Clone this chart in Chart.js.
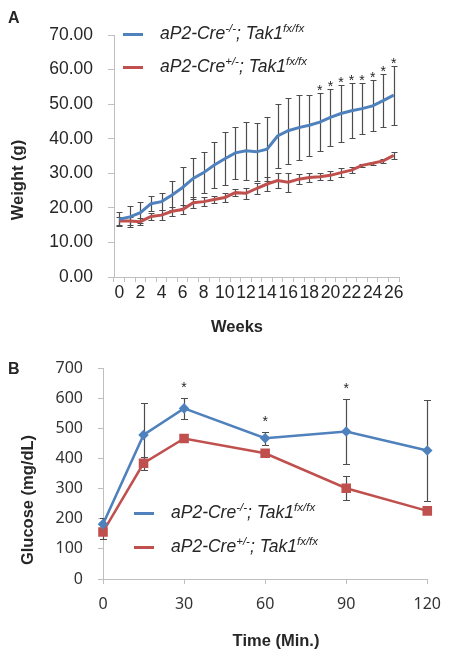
<!DOCTYPE html>
<html>
<head>
<meta charset="utf-8">
<script src="https://cdn.jsdelivr.net/npm/chart.js@4"></script>
<style>
  body { margin:0; background:#fff; }
  #wrap { position:relative; width:452px; height:658px; font-family:'Liberation Sans', Arial, sans-serif; color:#262626; }
  canvas { position:absolute; left:0; }
  #cA { top:0; }
  #cB { top:340px; }
  .lbl { position:absolute; font-weight:bold; font-size:16px; line-height:16px; }
  .ttl { position:absolute; font-weight:bold; font-size:16.5px; white-space:nowrap; transform:translate(-50%,-50%); line-height:18px; }
  .rot { transform:translate(-50%,-50%) rotate(-90deg); }
  .swatch { position:absolute; width:20px; height:3px; }
  .leg { position:absolute; font-style:italic; font-size:17.5px; line-height:20px; white-space:nowrap; transform:translateY(-50%); }
  .leg sup { font-size:11.5px; vertical-align:0; position:relative; top:-7px; }
</style>
</head>
<body>
<div id="wrap">
  <canvas id="cA" width="452" height="340"></canvas>
  <canvas id="cB" width="452" height="318"></canvas>

  <div class="lbl" style="left:8px;top:10px">A</div>
  <div class="lbl" style="left:8px;top:361px">B</div>

  <div class="ttl rot" style="left:17px;top:180px">Weight (g)</div>
  <div class="ttl" style="left:237px;top:326px">Weeks</div>
  <div class="ttl rot" style="left:27px;top:500px">Glucose (mg/dL)</div>
  <div class="ttl" style="left:276px;top:640px">Time (Min.)</div>

  <div class="swatch" style="left:123px;top:33px;background:#4F81BD"></div>
  <div class="leg" style="left:160px;top:34px">aP2-Cre<sup>-/-</sup>; Tak1<sup>fx/fx</sup></div>
  <div class="swatch" style="left:123px;top:66px;background:#C0504D"></div>
  <div class="leg" style="left:160px;top:67px">aP2-Cre<sup>+/-</sup>; Tak1<sup>fx/fx</sup></div>

  <div class="swatch" style="left:134px;top:512px;background:#4F81BD"></div>
  <div class="leg" style="left:171px;top:513px">aP2-Cre<sup>-/-</sup>; Tak1<sup>fx/fx</sup></div>
  <div class="swatch" style="left:134px;top:546px;background:#C0504D"></div>
  <div class="leg" style="left:171px;top:547px">aP2-Cre<sup>+/-</sup>; Tak1<sup>fx/fx</sup></div>
</div>

<script>
/* ===== Data: panel A (weight) ===== */
const weeks = [0,1,2,3,4,5,6,7,8,9,10,11,12,13,14,15,16,17,18,19,20,21,22,23,24,25,26];
const koWeight  = [16.7,17.4,18.6,21.2,21.8,23.7,25.9,28.5,30.2,32.4,34.2,35.9,36.5,36.2,37.0,40.8,42.3,43.2,43.9,44.8,46.2,47.3,48.1,48.7,49.5,51.0,52.6];
const koWeightErr = [2.0,3.0,3.0,2.2,2.5,4.2,5.8,6.0,6.0,6.7,7.6,7.6,8.4,8.3,9.2,9.2,9.5,9.5,8.8,8.3,8.3,8.3,7.9,7.4,7.4,7.6,8.5];
const ctlWeight = [16.2,16.2,16.0,17.5,17.9,19.0,19.5,21.5,21.8,22.4,23.0,24.4,24.2,25.6,26.9,27.9,27.4,28.3,28.8,29.0,29.4,30.2,30.9,32.3,32.9,33.6,35.2];
const ctlWeightErr = [1.3,1.3,1.1,1.1,1.4,1.3,1.2,1.6,1.2,1.1,1.3,1.1,1.6,1.7,1.9,2.2,2.8,1.5,1.2,1.0,1.2,1.3,0.9,0.5,0.5,0.6,1.0];
const weightStars = [19,20,21,22,23,24,25,26];   // weeks marked *

/* ===== Data: panel B (glucose) ===== */
const timeMin = [0,15,30,60,90,120];
const koGlucose  = [182,478,566,467,489,426];
const koGlucoseErr = [20,105,36,22,108,167];
const ctlGlucose = [156,384,466,417,301,226];
const ctlGlucoseErr = [24,22,6,10,40,6];
const glucoseStars = [30,60,90];                 // minutes marked *

const BLUE = '#4F81BD', RED = '#C0504D', AXIS = '#BFBFBF';

/* ===== Error bars + asterisks ===== */
const errorBars = {
  id: 'errorBars',
  beforeDatasetsDraw(chart, args, o){
    const ctx = chart.ctx, ys = chart.scales.y;
    chart.data.datasets.forEach((ds, i) => {
      if (!ds.errors) return;
      const meta = chart.getDatasetMeta(i);
      ctx.save();
      ctx.strokeStyle = o.color; ctx.lineWidth = o.width;
      meta.data.forEach((pt, j) => {
        const v = ds.data[j], y = typeof v === 'object' ? v.y : v, e = ds.errors[j];
        const t = Math.round(ys.getPixelForValue(y + e)) + .5, b = Math.round(ys.getPixelForValue(y - e)) + .5;
        const x = Math.round(pt.x) + .5;
        ctx.beginPath();
        ctx.moveTo(x, t); ctx.lineTo(x, b);
        ctx.moveTo(x - o.cap, t); ctx.lineTo(x + o.cap, t);
        ctx.moveTo(x - o.cap, b); ctx.lineTo(x + o.cap, b);
        ctx.stroke();
      });
      ctx.restore();
    });
  },
  afterDatasetsDraw(chart, args, o){
    const ctx = chart.ctx, ys = chart.scales.y;
    chart.data.datasets.forEach((ds, i) => {
      if (!ds.stars) return;
      const meta = chart.getDatasetMeta(i);
      ctx.save();
      ctx.fillStyle = '#262626'; ctx.font = '14px "Liberation Sans", Arial';
      ctx.textAlign = 'center'; ctx.textBaseline = 'alphabetic';
      ds.stars.forEach(k => {
        const j = ds.keys.indexOf(k), v = ds.data[j], y = typeof v === 'object' ? v.y : v;
        ctx.fillText('*', meta.data[j].x, ys.getPixelForValue(y + ds.errors[j]) + o.starOffset);
      });
      ctx.restore();
    });
  }
};

Chart.defaults.font.family = '"Liberation Sans", Arial, sans-serif';
Chart.defaults.color = '#262626';

/* ===== Panel A ===== */
new Chart(document.getElementById('cA'), {
  type: 'line',
  data: {
    labels: weeks,
    datasets: [
      { data: koWeight, errors: koWeightErr, stars: weightStars, keys: weeks, borderColor: BLUE, borderWidth: 3, pointRadius: 0, tension: 0 },
      { data: ctlWeight, errors: ctlWeightErr, keys: weeks, borderColor: RED, borderWidth: 3, pointRadius: 0, tension: 0 }
    ]
  },
  options: {
    responsive: false, animation: false,
    layout: { padding: { left: 0, top: 35, right: 53, bottom: 0 } },
    plugins: { legend: { display: false }, tooltip: { enabled: false },
      errorBars: { color: '#4d4d4d', width: 1.2, cap: 3, starOffset: 2 } },
    scales: {
      x: {
        offset: true,
        grid: { offset: true, drawOnChartArea: false, tickLength: 5, color: AXIS },
        border: { color: AXIS },
        ticks: { autoSkip: false, maxRotation: 0, padding: 1, font: { size: 17.5 },
          callback: (v, i) => i % 2 === 0 ? String(weeks[i]) : '' },
        afterFit: s => { s.height = 63; }
      },
      y: {
        min: 0, max: 70,
        grid: { drawOnChartArea: false, tickLength: 6, color: AXIS },
        border: { color: AXIS },
        ticks: { stepSize: 10, padding: 15, font: { size: 17.5 }, callback: v => v.toFixed(2) },
        afterFit: s => { s.width = 114; }
      }
    }
  },
  plugins: [errorBars]
});

/* ===== Panel B ===== */
const pts = (ys) => timeMin.map((t, i) => ({ x: t, y: ys[i] }));
new Chart(document.getElementById('cB'), {
  type: 'line',
  data: {
    datasets: [
      { data: pts(koGlucose), errors: koGlucoseErr, stars: glucoseStars, keys: timeMin, borderColor: BLUE, backgroundColor: BLUE,
        borderWidth: 2.5, pointStyle: 'rectRot', pointRadius: 3.5, clip: false },
      { data: pts(ctlGlucose), errors: ctlGlucoseErr, keys: timeMin, borderColor: RED, backgroundColor: RED,
        borderWidth: 2.5, pointStyle: 'rect', pointRadius: 5, clip: false }
    ]
  },
  options: {
    responsive: false, animation: false,
    layout: { padding: { left: 0, top: 28, right: 23, bottom: 0 } },
    plugins: { legend: { display: false }, tooltip: { enabled: false },
      errorBars: { color: '#4d4d4d', width: 1.2, cap: 3.5, starOffset: -6 } },
    scales: {
      x: {
        type: 'linear', min: 0, max: 120,
        grid: { drawOnChartArea: false, tickLength: 5, color: AXIS },
        border: { color: AXIS },
        ticks: { stepSize: 30, padding: 11, color: '#333', font: { family: '"Noto Sans", sans-serif', size: 16 } },
        afterFit: s => { s.height = 79; }
      },
      y: {
        min: 0, max: 700,
        grid: { drawOnChartArea: false, tickLength: 5, color: AXIS },
        border: { color: AXIS },
        ticks: { stepSize: 100, padding: 15, color: '#333', font: { family: '"Noto Sans", sans-serif', size: 16 } },
        afterFit: s => { s.width = 103; }
      }
    }
  },
  plugins: [errorBars]
});
</script>
</body>
</html>
